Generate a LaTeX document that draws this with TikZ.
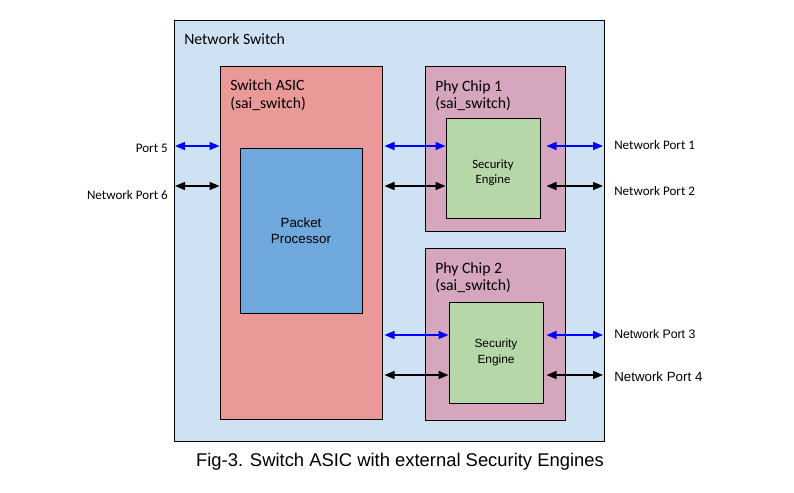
\documentclass[tikz,border=0pt]{standalone}
\usepackage{fontspec}
\setmainfont{Carlito}
\newfontfamily\arialfont{Liberation Sans}
\usetikzlibrary{arrows.meta}
\definecolor{swblue}{HTML}{CFE2F3}
\definecolor{asicred}{HTML}{EA9999}
\definecolor{ppblue}{HTML}{6FA8DC}
\definecolor{phypink}{HTML}{D5A6BD}
\definecolor{segreen}{HTML}{B6D7A8}
\definecolor{portblue}{HTML}{0000FF}

\begin{document}
\begin{tikzpicture}[x=0.75pt,y=-0.75pt,
  box/.style={draw,black,line width=0.75pt,inner sep=0pt},
  title/.style={inner sep=0pt,anchor=north west,align=left,font=\fontsize{11.8}{13.2}\selectfont},
  port/.style={inner sep=0pt,font=\fontsize{9.8}{12}\selectfont},
  bi/.style={line width=1.1pt,{Triangle[length=\l,width=\w]}-{Triangle[length=\l,width=\w]}}]
\def\u{0.75pt}
\def\l{7.5pt}
\def\w{6pt}
\useasboundingbox (0,0) rectangle (794,493);
%boxes
\node [box,fill=swblue,minimum width=430*\u,minimum height=421*\u,name=sw] at (389,230.5) {};
\node [box,fill=asicred,minimum width=162*\u,minimum height=353*\u,name=asic] at (301,242.5) {};
\node [box,fill=ppblue,minimum width=122*\u,minimum height=165*\u,align=center,font=\arialfont\fontsize{10}{12}\selectfont,name=pp] at (301,230.5) {Packet\\Processor};
\node [box,fill=phypink,minimum width=140*\u,minimum height=165*\u,name=phy1] at (495,148.5) {};
\node [box,fill=segreen,minimum width=94*\u,minimum height=100*\u,align=center,text height=25pt,font=\fontsize{9.5}{11.5}\selectfont,name=se1] at (493,168) {Security\\Engine};
\node [box,fill=phypink,minimum width=140*\u,minimum height=172*\u,name=phy2] at (495,334) {};
\node [box,fill=segreen,minimum width=94*\u,minimum height=101*\u,align=center,font=\arialfont\fontsize{8.9}{11.5}\selectfont,name=se2] at (496,352.5) {Security\\Engine};
%titles
\node [title,name=swtitle] at (184,33) {Network Switch};
\node [title,name=asictitle] at (230,79.5) {Switch ASIC\\(sai\_switch)};
\node [title,name=phy1title] at (435,80) {Phy Chip 1\\(sai\_switch)};
\node [title,name=phy2title] at (435,262) {Phy Chip 2\\(sai\_switch)};
%port ends
\coordinate (p5) at (175,146);
\coordinate (p6) at (175,186);
\coordinate (n1) at (603,146);
\coordinate (n2) at (603,186);
\coordinate (n3) at (603,335);
\coordinate (n4) at (603,375);
\draw [bi,portblue] (p5) -- (p5 -| asic.west);
\draw [bi] (p6) -- (p6 -| asic.west);
\draw [bi,portblue,shorten <=1.5pt] (asic.east |- p5) -- (se1.west |- p5);
\draw [bi,shorten <=1.5pt] (asic.east |- p6) -- (se1.west |- p6);
\draw [bi,portblue,shorten <=4.5pt] (se1.east |- n1) -- (n1);
\draw [bi,shorten <=4.5pt] (se1.east |- n2) -- (n2);
\draw [bi,portblue,shorten <=1.5pt] (asic.east |- n3) -- (se2.west |- n3);
\draw [bi,shorten <=1.5pt] (asic.east |- n4) -- (se2.west |- n4);
\draw [bi,portblue,shorten <=2.25pt] (se2.east |- n3) -- (n3);
\draw [bi,shorten <=2.25pt] (se2.east |- n4) -- (n4);
%port labels
\node [port,anchor=east,name=l5] at (168,148) {Port 5};
\node [port,anchor=east,name=l6] at (168,195) {Network Port 6};
\node [port,anchor=west,name=l1] at (614,145.5) {Network Port 1};
\node [port,anchor=west,name=l2] at (614,191.5) {Network Port 2};
\node [port,anchor=west,font=\arialfont\fontsize{9.2}{11}\selectfont,name=l3] at (614,334.5) {Network Port 3};
\node [port,anchor=west,font=\arialfont\fontsize{10}{12}\selectfont,name=l4] at (614,377) {Network Port 4};
%caption
\node [inner sep=0pt,font=\arialfont\fontsize{13.8}{16}\selectfont,name=cap] at (400,462) {Fig-3. Switch ASIC with external Security Engines};
\end{tikzpicture}
\end{document}
